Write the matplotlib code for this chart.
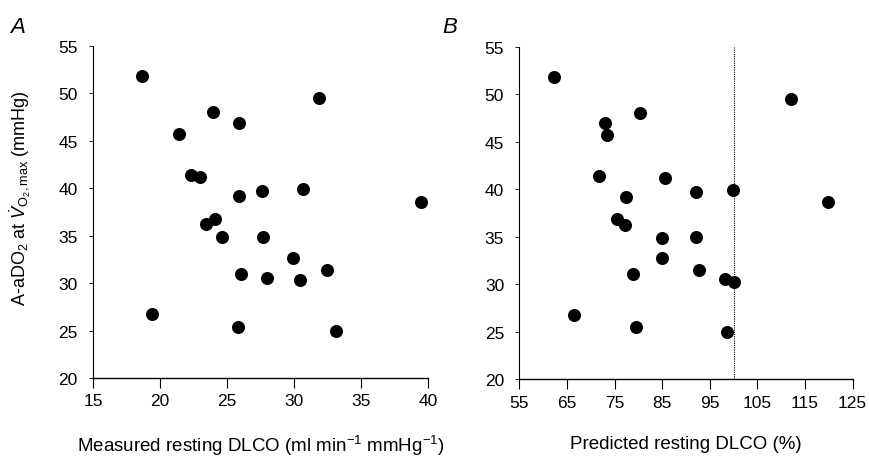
import matplotlib.pyplot as plt

plt.rcParams['font.family'] = ['Liberation Sans', 'DejaVu Sans']
plt.rcParams['mathtext.fontset'] = 'custom'
plt.rcParams['mathtext.rm'] = 'Liberation Sans'
plt.rcParams['mathtext.it'] = 'Liberation Sans:italic'

# A-aDO2 at VO2max (mmHg), same subjects in both panels
aado2 = [51.8, 26.7, 45.7, 41.4, 41.2, 48.0, 36.2, 36.8, 34.9, 25.4, 46.9, 39.2,
         31.0, 39.7, 34.9, 30.5, 32.7, 30.3, 39.9, 49.5, 31.4, 25.0, 38.6]
# measured resting DLCO (ml/min/mmHg)
dlco_meas = [18.66, 19.37, 21.42, 22.34, 22.96, 23.96, 23.46, 24.07, 24.65, 25.84, 25.9, 25.9,
             26.04, 27.63, 27.66, 28.0, 29.95, 30.45, 30.67, 31.87, 32.46, 33.16, 39.48]

# predicted resting DLCO (%)
aado2_b = [51.8, 47.0, 45.7, 48.0, 41.4, 41.2, 39.2, 39.7, 39.9, 49.5, 38.7, 36.9,
           36.2, 34.9, 35.0, 32.8, 31.1, 31.5, 30.6, 30.3, 26.8, 25.5, 25.0]
dlco_pred = [62.3, 73.0, 73.4, 80.4, 71.7, 85.5, 77.5, 92.0, 99.8, 112.0, 119.8, 75.5,
             77.2, 85.0, 92.1, 84.9, 78.9, 92.7, 98.2, 100.1, 66.5, 79.5, 98.6]

fig = plt.figure(figsize=(8.7, 4.6), dpi=100)
axA = fig.add_axes([0.107, 0.176, 0.385, 0.722])
axB = fig.add_axes([0.597, 0.173, 0.383, 0.723])

for ax in (axA, axB):
    for s in ('top', 'right'):
        ax.spines[s].set_visible(False)
    ax.spines['left'].set_linewidth(0.8)
    ax.spines['bottom'].set_linewidth(1.0)
    ax.set_ylim(20, 55)
    ax.set_yticks(range(20, 56, 5))
    ax.tick_params(axis='x', direction='out', length=7, width=0.8, labelsize=12.5, pad=4)
    ax.tick_params(axis='y', direction='out', length=3, width=0.6, labelsize=12.5, pad=8)

axA.scatter(dlco_meas, aado2, s=70, color='black', zorder=3, clip_on=False)
axA.set_xlim(15, 40)
axA.set_xticks(range(15, 41, 5))
axA.set_xlabel('Measured resting DLCO (ml min$^{-1}$ mmHg$^{-1}$)', fontsize=13.5, labelpad=18)
axA.set_ylabel(r'A-aDO$_2$ at $\dot{V}_{\mathrm{O_2,max}}$ (mmHg)', fontsize=13)
axA.yaxis.set_label_coords(-0.18, 0.545)

axB.axvline(100, ymin=0, ymax=1, color='black', linestyle=(0, (1, 1)), linewidth=0.8, zorder=1)
axB.scatter(dlco_pred, aado2_b, s=70, color='black', zorder=3, clip_on=False)
axB.set_xlim(55, 125)
axB.set_xticks(range(55, 126, 10))
axB.set_xlabel('Predicted resting DLCO (%)', fontsize=13.5, labelpad=18)

fig.text(0.012, 0.928, 'A', fontsize=16, style='italic')
fig.text(0.508, 0.928, 'B', fontsize=16, style='italic')

fig.savefig('out.png', dpi=100)
